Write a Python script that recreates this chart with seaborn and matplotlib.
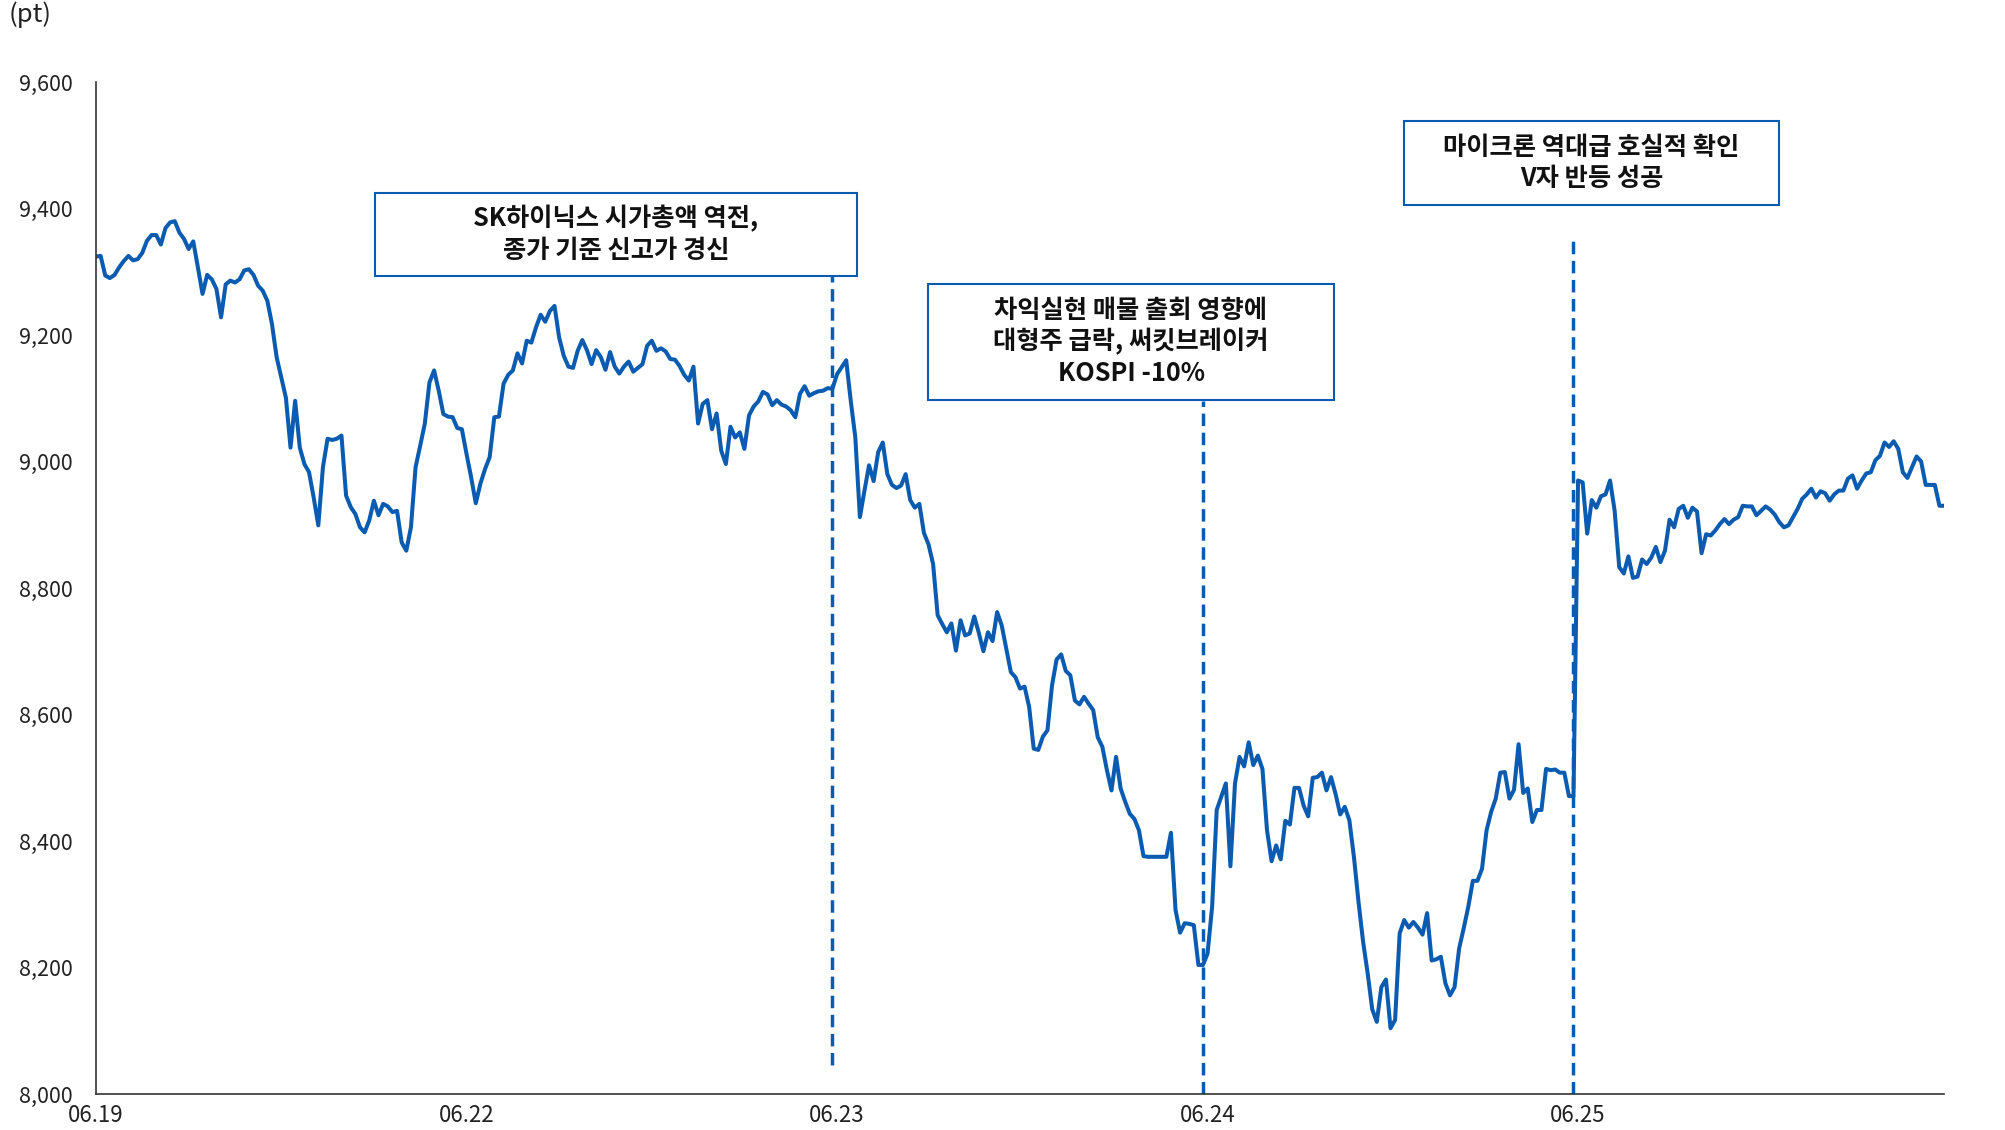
import numpy as np
import pandas as pd
import seaborn as sns
import matplotlib.pyplot as plt
from matplotlib.patches import Rectangle
from matplotlib.ticker import FuncFormatter

# KOSPI intraday, one list per trading day
day_labels = ['06.19', '06.22', '06.23', '06.24', '06.25']

d0619 = [9324, 9325, 9294, 9290, 9295, 9307, 9317, 9325, 9318, 9320, 9330, 9349, 9358, 9358,
         9343, 9369, 9378, 9380, 9362, 9352, 9336, 9348, 9307, 9265, 9295, 9288, 9273, 9228,
         9280, 9286, 9283, 9288, 9302, 9304, 9295, 9278, 9270, 9254, 9217,
         9165, 9133, 9101, 9022, 9096, 9022, 8996, 8983, 8943, 8899, 8991, 9036, 9034, 9036,
         9041, 8946, 8928, 8917, 8896, 8888, 8907, 8938, 8915, 8933, 8929, 8920, 8922, 8872,
         8859, 8896, 8991, 9025, 9060, 9125, 9144, 9112, 9075, 9071, 9070, 9053, 9051]

d0622 = [9012, 8975, 8934, 8965, 8988, 9007, 9070, 9071, 9123, 9137, 9144, 9171, 9155, 9191,
         9188, 9212, 9232, 9221, 9238, 9246, 9196, 9167, 9150, 9148, 9175, 9192, 9176, 9154,
         9176, 9165, 9145, 9173, 9150, 9139, 9150, 9158, 9142, 9148, 9154, 9183, 9191, 9175,
         9179, 9174, 9162, 9161, 9151, 9137, 9128, 9150, 9060, 9091, 9097, 9051, 9076, 9017,
         8996, 9055, 9038, 9046, 9020, 9073, 9087, 9095, 9110, 9106, 9089, 9097, 9090, 9087,
         9081, 9070, 9107, 9119, 9104, 9108, 9111, 9112, 9116, 9115]

d0623 = [9138, 9149, 9160, 9096, 9038, 8912, 8954, 8994, 8969, 9015, 9030, 8980, 8963, 8958,
         8962, 8980, 8939, 8927, 8933, 8887, 8869, 8838, 8757, 8743, 8730, 8744, 8701, 8749,
         8725, 8728, 8755, 8729, 8700, 8730, 8716, 8762, 8741, 8704, 8667, 8659, 8641, 8644,
         8612, 8546, 8544, 8565, 8575, 8646, 8687, 8695, 8669, 8662, 8622, 8616, 8628, 8617,
         8607, 8564, 8549, 8512, 8480, 8533, 8483, 8462, 8443, 8435, 8417, 8376, 8375, 8375,
         8375, 8375, 8375, 8413, 8291, 8255, 8270, 8269, 8267, 8204, 8204]

d0624 = [8222, 8296, 8449, 8470, 8491, 8360, 8491, 8533, 8518, 8556, 8520, 8535, 8514, 8417,
         8368, 8393, 8371, 8432, 8426, 8484, 8484, 8456, 8439, 8500, 8501, 8508, 8480, 8501,
         8474, 8442, 8454, 8433, 8375, 8304, 8241, 8191, 8134, 8114, 8169, 8181, 8104, 8117,
         8254, 8275, 8263, 8272, 8263, 8252, 8286, 8211, 8213, 8217, 8175, 8156, 8169, 8230,
         8262, 8296, 8337, 8337, 8356, 8417, 8446, 8467, 8508, 8509, 8467, 8481, 8553, 8476,
         8483, 8430, 8449, 8449, 8514, 8512, 8513, 8508, 8508, 8471, 8471]

d0625 = [8970, 8967, 8886, 8939, 8927, 8945, 8948, 8970, 8922, 8833, 8823, 8850, 8816, 8818,
         8845, 8838, 8848, 8865, 8841, 8859, 8908, 8896, 8925, 8930, 8911, 8927, 8921, 8855,
         8885, 8883, 8891, 8901, 8909, 8901, 8908, 8912, 8930, 8929, 8929, 8915, 8922, 8929,
         8924, 8916, 8904, 8896, 8899, 8912, 8925, 8941, 8948, 8957, 8943, 8953, 8950, 8938,
         8948, 8954, 8954, 8973, 8978, 8957, 8970, 8981, 8983, 9002, 9009, 9030, 9023, 9032,
         9020, 8983, 8974, 8991, 9008, 9000, 8963, 8963, 8963, 8930, 8930]

days = [d0619, d0622, d0623, d0624, d0625]

notes = ['SK하이닉스 시가총액 역전,\n종가 기준 신고가 경신',
         '차익실현 매물 출회 영향에\n대형주 급락, 써킷브레이커\nKOSPI -10%',
         '마이크론 역대급 호실적 확인\nV자 반등 성공']

rows = []
for k, vals in enumerate(days):
    n = len(vals)
    for i, v in enumerate(vals):
        rows.append({'day': k, 'pos': k + i / n, 'value': v})
df = pd.DataFrame(rows)

# event lines sit on the last print of the previous session
last_pos = df.groupby('day')['pos'].max()

sns.set_style('white')
plt.rcParams['font.family'] = ['Noto Sans CJK KR', 'DejaVu Sans']

W, H = 2005, 1130
fig = plt.figure(figsize=(W / 100, H / 100), dpi=100)
ax = fig.add_axes([96 / W, 1 - 1094 / H, (1944 - 96) / W, (1094 - 82) / H])

blue = '#0B5CB0'
sns.lineplot(data=df, x='pos', y='value', ax=ax, color=blue, linewidth=2.9)

dash = (0, (3.6, 1.9))
ax.vlines(last_pos[1], 8046, 9294, color=blue, lw=2.5, linestyle=dash)
ax.vlines(last_pos[2], 8000, 9096, color=blue, lw=2.5, linestyle=dash)
ax.vlines(last_pos[3], 8000, 9350, color=blue, lw=2.5, linestyle=dash)

xmax = df['pos'].iloc[-1]
ax.set_xlim(0, xmax)
ax.set_ylim(8000, 9600)
ax.set_xticks(list(range(len(day_labels))) + [xmax])
ax.set_xticklabels(day_labels + [''])
ax.set_yticks(np.arange(8000, 9601, 200))
ax.yaxis.set_major_formatter(FuncFormatter(lambda v, p: f'{int(v):,}'))
ax.set_xlabel('')
ax.set_ylabel('')

for s in ['top', 'right']:
    ax.spines[s].set_visible(False)
for s in ['left', 'bottom']:
    ax.spines[s].set_color('#333333')
    ax.spines[s].set_linewidth(1.2)
ax.tick_params(axis='y', direction='out', length=5, width=1.1, color='#333333',
               labelsize=15.5, pad=12, labelcolor='#222222')
ax.tick_params(axis='x', direction='out', length=5, width=1.1, color='#333333',
               labelsize=16, pad=2, labelcolor='#222222')

fig.text(9 / W, 1 - 1 / H, '(pt)', fontsize=18.5, va='top', ha='left', color='#222222')

# annotation boxes (pixel extents)
boxes = [(375, 193, 857, 276), (928, 284, 1334, 400), (1404, 121, 1779, 205)]
for (x0, y0, x1, y1), txt in zip(boxes, notes):
    fig.patches.append(Rectangle((x0 / W, 1 - y1 / H), (x1 - x0) / W, (y1 - y0) / H,
                                 transform=fig.transFigure, fill=True, facecolor='white',
                                 edgecolor=blue, lw=1.5, zorder=5))
    fig.text((x0 + x1) / 2 / W, 1 - (y0 + y1) / 2 / H, txt, ha='center', va='center',
             fontsize=18.2, fontweight='bold', linespacing=1.22, color='#111111', zorder=6)

fig.savefig('out.png', dpi=100)
